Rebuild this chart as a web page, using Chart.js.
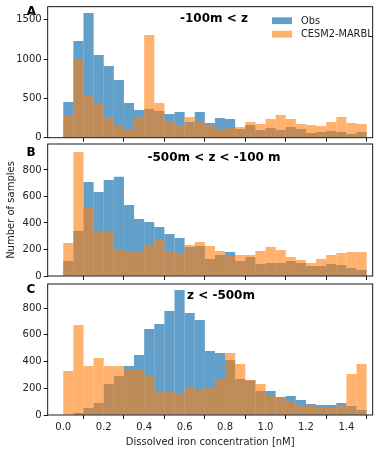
<!DOCTYPE html>
<html><head><meta charset="utf-8">
<script src="https://cdn.jsdelivr.net/npm/chart.js@4/dist/chart.umd.min.js"></script>
<style>
html,body{margin:0;padding:0;background:#fff;}
#wrap{position:relative;width:389px;height:453px;overflow:hidden;}
.p{position:absolute;left:0;width:389px;}
canvas{display:block;}
</style></head><body>
<div id="wrap">
<div class="p" style="top:0;height:142px"><canvas id="cA" width="389" height="142"></canvas></div>
<div class="p" style="top:142px;height:138px"><canvas id="cB" width="389" height="138"></canvas></div>
<div class="p" style="top:280px;height:173px"><canvas id="cC" width="389" height="173"></canvas></div>
</div>
<script>
// Bin centres of dissolved iron concentration [nM] (bin width 0.05)
const binCenters = [0.025,0.075,0.125,0.175,0.225,0.275,0.325,0.375,0.425,0.475,
  0.525,0.575,0.625,0.675,0.725,0.775,0.825,0.875,0.925,0.975,
  1.025,1.075,1.125,1.175,1.225,1.275,1.325,1.375,1.425,1.475];
const seriesNames = ['Obs','CESM2-MARBL'];
const panelLetters = ['A','B','C'];
const panelTitles = ['-100m < z','-500m < z < -100 m','z < -500m'];
const xTickValues = [0.0,0.2,0.4,0.6,0.8,1.0,1.2,1.4];
const yTicksA = [0,500,1000,1500];
const yTicksBC = [0,200,400,600,800];
const xLabel = 'Dissolved iron concentration [nM]';
const yLabel = 'Number of samples';

const obsA = [454,1230,1586,1051,912,733,441,352,365,339,301,326,199,326,187,250,237,110,161,98,123,98,136,110,59,72,85,72,47,72];
const modA = [276,1000,543,432,254,148,98,254,1306,441,212,161,263,212,161,110,123,136,199,174,237,288,237,174,161,148,199,263,187,174];
const obsB = [113,340,710,634,725,748,536,430,408,370,317,287,219,227,128,159,181,113,143,91,98,98,113,98,76,76,91,83,60,45];
const modB = [249,936,513,332,340,204,181,181,234,272,189,166,234,257,227,189,151,159,159,189,219,196,143,121,98,128,159,174,181,181];
const obsC = [0,15,52,90,232,292,366,449,643,681,778,935,763,710,479,464,411,269,260,180,180,135,142,112,82,75,75,90,67,37];
const modC = [329,673,366,426,366,366,337,344,299,172,180,165,202,194,209,269,464,381,262,232,142,127,97,75,75,52,52,75,307,381];

const OBS_COLOR = 'rgba(31,119,180,0.7)';
const MOD_COLOR = 'rgba(255,127,14,0.6)';
const FONT = 'DejaVu Sans';

const panelPlugin = {
  id: 'panelDeco',
  afterDraw(chart, args, o) {
    const ctx = chart.ctx, a = chart.chartArea;
    ctx.save();
    ctx.strokeStyle = '#000';
    ctx.lineWidth = 0.9;
    ctx.strokeRect(a.left, a.top, a.right - a.left, a.bottom - a.top);
    ctx.fillStyle = '#000';
    ctx.font = 'bold 12px "' + FONT + '"';
    ctx.textBaseline = 'middle';
    ctx.textAlign = 'center';
    ctx.fillText(o.letter, o.lx, o.ly);
    ctx.fillText(o.title, o.tx, o.ty);
    if (o.legend) {
      ctx.font = '9.8px "' + FONT + '"';
      ctx.textAlign = 'left';
      chart.data.datasets.forEach((ds, i) => {
        const y = o.legY + i * 13.5;
        ctx.fillStyle = ds.backgroundColor;
        ctx.fillRect(o.legX, y - 3.4, 20, 6.8);
        ctx.fillStyle = '#222';
        ctx.fillText(ds.label, o.legX + 29, y + 0.5);
      });
    }
    ctx.restore();
  }
};

function zeroPad(s) { s.paddingTop = 0; s.paddingBottom = 0; s.paddingLeft = 0; s.paddingRight = 0; }

function makeChart(id, obs, mod, opt) {
  const ds = (label, vals, color, order) => ({
    label, order,
    data: binCenters.map((x, i) => ({x, y: vals[i]})),
    backgroundColor: color, borderWidth: 0,
    barPercentage: 1, categoryPercentage: 1, grouped: false, inflateAmount: 0
  });
  return new Chart(document.getElementById(id), {
    type: 'bar',
    data: { datasets: [ds(seriesNames[0], obs, OBS_COLOR, 2), ds(seriesNames[1], mod, MOD_COLOR, 1)] },
    plugins: [panelPlugin],
    options: {
      responsive: false, animation: false, events: [],
      layout: { padding: { left: 0, right: 16.3, top: opt.padTop, bottom: 0 } },
      plugins: { legend: { display: false }, tooltip: { enabled: false }, panelDeco: opt.deco },
      scales: {
        x: {
          type: 'linear', min: -0.077, max: 1.53, offset: false,
          afterBuildTicks: s => { s.ticks = xTickValues.map(v => ({value: v})); },
          afterFit: s => { s.height = opt.xH; zeroPad(s); },
          grid: { drawOnChartArea: false, drawTicks: true, tickLength: 4, color: '#000', lineWidth: 0.9 },
          border: { display: false },
          ticks: { display: opt.xLabels, padding: 2, color: '#222', font: { family: FONT, size: 10 },
                   callback: v => v.toFixed(1), maxRotation: 0, autoSkip: false },
          title: { display: opt.xLabels, text: xLabel, color: '#222', font: { family: FONT, size: 10 }, padding: { top: 0, bottom: 5 } }
        },
        y: {
          min: 0, max: opt.yMax,
          afterBuildTicks: s => { s.ticks = opt.yTicks.map(v => ({value: v})); },
          afterFit: s => { s.width = 47.7; zeroPad(s); },
          grid: { drawOnChartArea: false, drawTicks: true, tickLength: 4, color: '#000', lineWidth: 0.9 },
          border: { display: false },
          ticks: { padding: 2, color: '#222', font: { family: FONT, size: 10 }, autoSkip: false,
                   callback: v => String(v) },
          title: { display: !!opt.yTitle, text: yLabel, color: '#222', font: { family: FONT, size: 10 }, padding: { top: 5, bottom: 0 } }
        }
      }
    }
  });
}

makeChart('cA', obsA, modA, { padTop: 6.7, xH: 4.3, xLabels: false, yMax: 1665, yTicks: yTicksA,
  deco: { letter: panelLetters[0], lx: 31.5, ly: 12, title: panelTitles[0], tx: 214, ty: 19, legend: true, legX: 272, legY: 20.7 } });
makeChart('cB', obsB, modB, { padTop: 2, xH: 4, xLabels: false, yMax: 996, yTicks: yTicksBC, yTitle: true,
  deco: { letter: panelLetters[1], lx: 31, ly: 11, title: panelTitles[1], tx: 214, ty: 15.5 } });
makeChart('cC', obsC, modC, { padTop: 4, xH: 38, xLabels: true, yMax: 980, yTicks: yTicksBC,
  deco: { letter: panelLetters[2], lx: 31, ly: 10, title: panelTitles[2], tx: 221, ty: 16 } });
</script>
</body></html>
